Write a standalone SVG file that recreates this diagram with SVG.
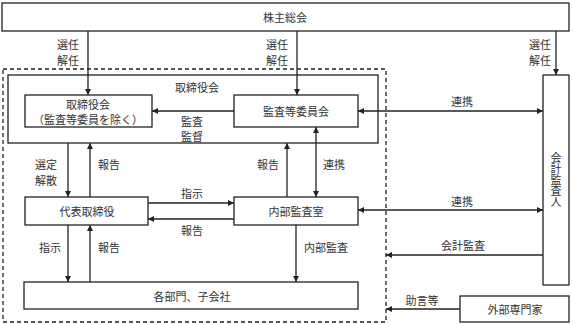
<svg xmlns="http://www.w3.org/2000/svg" width="573" height="324" viewBox="0 0 573 324">
<style>
.box{fill:#fff;stroke:#222;stroke-width:1.3}
.dash{fill:none;stroke:#222;stroke-width:1.3;stroke-dasharray:4,3}
.t{font-family:"Noto Sans CJK JP","Noto Sans CJK SC",sans-serif;font-size:11px;fill:#333;text-anchor:middle;dominant-baseline:central}
.v{font-family:"Noto Sans CJK JP","Noto Sans CJK SC",sans-serif;font-size:11px;fill:#333;text-anchor:middle;writing-mode:vertical-rl;glyph-orientation-vertical:0}
.c{fill:none;stroke:#222;stroke-width:1.3}
.e{marker-end:url(#ah)}
.d{marker-end:url(#ah);marker-start:url(#ah)}
</style>
<defs>
<marker id="ah" markerUnits="userSpaceOnUse" markerWidth="7" markerHeight="7" refX="6" refY="3" orient="auto-start-reverse">
<path d="M0,0 L6,3 L0,6 z" fill="#222"/>
</marker>
</defs>
<rect x="0" y="0" width="573" height="324" fill="#fff"/>
<g id="dashed-frame"><rect class="dash" x="3" y="69" width="383" height="253"/></g>
<g id="shareholders"><rect class="box" x="2" y="3" width="567" height="28"/><text class="t" x="285" y="17">株主総会</text></g>
<g id="board-frame"><rect class="box" x="8" y="75" width="370" height="68"/><text class="t" x="197" y="87">取締役会</text></g>
<g id="board"><rect class="box" x="25" y="95" width="127" height="32"/><text class="t" x="88" y="104">取締役会</text><text class="t" x="88" y="119">（監査等委員を除く）</text></g>
<g id="audit-committee"><rect class="box" x="234" y="95" width="124" height="32"/><text class="t" x="296" y="111">監査等委員会</text></g>
<g id="accounting-auditor"><rect class="box" x="543" y="75" width="26" height="210"/>
<text class="v" x="556" y="180">会計監査人</text></g>
<g id="representative"><rect class="box" x="25" y="197" width="123" height="28"/><text class="t" x="87" y="211">代表取締役</text></g>
<g id="internal-audit"><rect class="box" x="234" y="197" width="124" height="28"/><text class="t" x="296" y="211">内部監査室</text></g>
<g id="departments"><rect class="box" x="24" y="282" width="334" height="27"/><text class="t" x="192" y="296">各部門、子会社</text></g>
<g id="experts"><rect class="box" x="460" y="296" width="109" height="26"/><text class="t" x="515" y="309">外部専門家</text></g>
<g id="connectors">
<path class="c e" d="M88,31 V95"/>
<path class="c e" d="M297,31 V95"/>
<path class="c e" d="M556,31 V75"/>
<path class="c e" d="M234,111 H152"/>
<path class="c d" d="M358,111 H543"/>
<path class="c e" d="M68,143 V197"/>
<path class="c e" d="M90,197 V143"/>
<path class="c e" d="M287,197 V143"/>
<path class="c d" d="M316,127 V197"/>
<path class="c e" d="M148,203 H234"/>
<path class="c e" d="M234,219 H148"/>
<path class="c d" d="M358,210 H543"/>
<path class="c e" d="M68,225 V282"/>
<path class="c e" d="M90,282 V225"/>
<path class="c e" d="M296,225 V282"/>
<path class="c e" d="M543,255 H386"/>
<path class="c e" d="M460,309 H386"/>
</g>
<g id="labels">
<text class="t" x="68" y="44">選任</text><text class="t" x="68" y="60">解任</text>
<text class="t" x="277" y="44">選任</text><text class="t" x="277" y="60">解任</text>
<text class="t" x="540" y="44">選任</text><text class="t" x="540" y="60">解任</text>
<text class="t" x="192" y="121">監査</text><text class="t" x="192" y="136">監督</text>
<text class="t" x="462" y="101">連携</text>
<text class="t" x="46" y="164">選定</text><text class="t" x="46" y="180">解散</text>
<text class="t" x="109" y="164">報告</text>
<text class="t" x="268" y="164">報告</text>
<text class="t" x="334" y="164">連携</text>
<text class="t" x="192" y="193">指示</text>
<text class="t" x="192" y="230">報告</text>
<text class="t" x="462" y="201">連携</text>
<text class="t" x="50" y="247">指示</text>
<text class="t" x="109" y="247">報告</text>
<text class="t" x="326" y="247">内部監査</text>
<text class="t" x="463" y="245">会計監査</text>
<text class="t" x="422" y="300">助言等</text>
</g>
</svg>
